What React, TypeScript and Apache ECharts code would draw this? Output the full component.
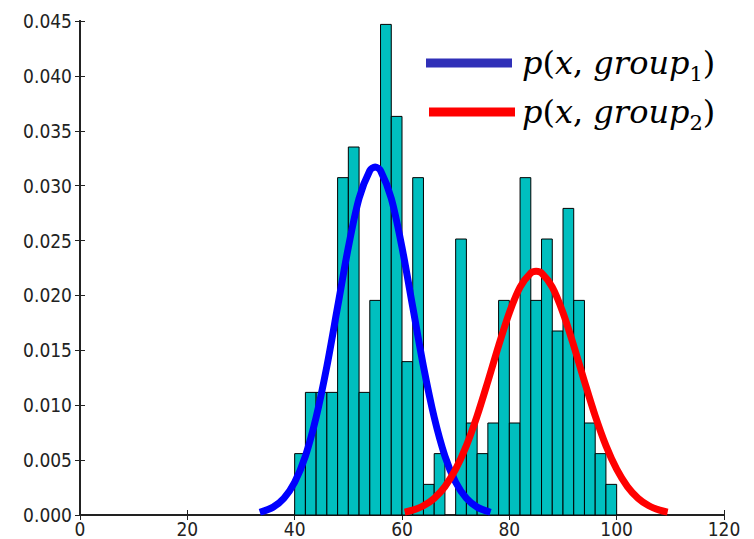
import React, { useEffect, useRef } from "react";
import * as echarts from "echarts";

// Histogram bin edges and normalized densities
const binEdges = [40, 42, 44, 46, 48, 50, 52, 54, 56, 58, 60, 62, 64, 66, 68, 70, 72, 74, 76, 78, 80, 82, 84, 86, 88, 90, 92, 94, 96, 98, 100];
const densities = [0.00559, 0.01117, 0.01117, 0.01117, 0.03073, 0.03352, 0.01117, 0.01955, 0.04469, 0.03631, 0.01397, 0.03073, 0.00279, 0.00559, 0, 0.02514, 0.00838, 0.00559, 0.00838, 0.01955, 0.00838, 0.03073, 0.01955, 0.02514, 0.01676, 0.02793, 0.01955, 0.00838, 0.00559, 0.00279];

// p(x, group1) curve
const blueX = [33.5, 36, 38, 40, 42, 44, 46, 48, 50, 52, 54, 55, 56, 58, 60, 62, 64, 66, 68, 70, 72, 74, 76.5];
const blueY = [0.00025, 0.00072, 0.00152, 0.00298, 0.00537, 0.0089, 0.01354, 0.01895, 0.02438, 0.02884, 0.03137, 0.0317, 0.03137, 0.02884, 0.02438, 0.01895, 0.01354, 0.0089, 0.00537, 0.00298, 0.00152, 0.00072, 0.00025];

// p(x, group2) curve
const redX = [60.5, 62, 64, 66, 68, 70, 72, 74, 76, 78, 80, 82, 84, 85, 86, 88, 90, 92, 94, 96, 98, 100, 102, 104, 106, 108, 109.5];
const redY = [0.00026, 0.00044, 0.00084, 0.00152, 0.00259, 0.00417, 0.00632, 0.00903, 0.01216, 0.01542, 0.01843, 0.02076, 0.02204, 0.0222, 0.02204, 0.02076, 0.01843, 0.01542, 0.01216, 0.00903, 0.00632, 0.00417, 0.00259, 0.00152, 0.00084, 0.00044, 0.00026];

const legendSubs = ["1", "2"];

const labelFont = "'DejaVu Sans Condensed', 'DejaVu Sans', sans-serif";

export default function App() {
  const ref = useRef<HTMLDivElement>(null);
  useEffect(() => {
    if (!ref.current) return;
    const chart = echarts.init(ref.current, null, { renderer: "svg" });
    const barData = densities.map((d, i) => [binEdges[i], binEdges[i + 1], d]);
    const axisLine = { show: true, lineStyle: { color: "#222", width: 2 } };
    const tick = { show: true, inside: true, length: 5, lineStyle: { color: "#222", width: 1 } };
    const richText = (sub: string) => ({
      type: "text",
      style: {
        text: `{i|p}{n|(}{i|x}{n|, }{i|group}{s|${sub}}{n|)}`,
        fill: "#000",
        verticalAlign: "middle",
        rich: {
          i: { fontFamily: "'DejaVu Serif', serif", fontStyle: "italic", fontSize: 32, lineHeight: 42 },
          n: { fontFamily: "'DejaVu Serif', serif", fontSize: 32, lineHeight: 42 },
          s: { fontFamily: "'DejaVu Serif', serif", fontSize: 21, lineHeight: 25, verticalAlign: "bottom" },
        },
      },
    });
    chart.setOption({
      animation: false,
      backgroundColor: "#fff",
      grid: { left: 80, right: 30, top: 21, bottom: 24, containLabel: false, outerBoundsMode: "none" },
      xAxis: [
        {
          type: "value", min: 0, max: 120, interval: 20, position: "bottom",
          axisLine, axisTick: tick, splitLine: { show: false },
          axisLabel: { fontSize: 19, lineHeight: 18, fontFamily: labelFont, color: "#222", margin: 5 },
        },
        {
          type: "value", min: 0, max: 120, interval: 20, position: "top",
          axisLine, axisTick: tick, splitLine: { show: false }, axisLabel: { show: false },
        },
      ],
      yAxis: [
        {
          type: "value", min: 0, max: 0.045, interval: 0.005, position: "left",
          axisLine, axisTick: tick, splitLine: { show: false },
          axisLabel: { fontSize: 19, fontFamily: labelFont, color: "#222", margin: 8, formatter: (v: number) => v.toFixed(3) },
        },
        {
          type: "value", min: 0, max: 0.045, interval: 0.005, position: "right",
          axisLine, axisTick: tick, splitLine: { show: false }, axisLabel: { show: false },
        },
      ],
      series: [
        {
          type: "custom",
          xAxisIndex: 0,
          yAxisIndex: 0,
          z: 2,
          encode: { x: [0, 1], y: 2 },
          data: barData,
          renderItem: (params: any, api: any) => {
            const x0 = api.value(0);
            const x1 = api.value(1);
            const v = api.value(2);
            if (!v) return null;
            const p0 = api.coord([x0, 0]);
            const p1 = api.coord([x1, v]);
            return {
              type: "rect",
              shape: { x: p0[0], y: p1[1], width: p1[0] - p0[0], height: p0[1] - p1[1] },
              style: { fill: "#00BFBF", stroke: "#000", lineWidth: 1 },
            };
          },
        },
        {
          type: "line",
          name: "p(x, group1)",
          z: 3,
          showSymbol: false,
          smooth: 0.3,
          data: blueX.map((x, i) => [x, blueY[i]]),
          lineStyle: { color: "#0000FF", width: 7 },
          itemStyle: { color: "#0000FF" },
        },
        {
          type: "line",
          name: "p(x, group2)",
          z: 4,
          showSymbol: false,
          smooth: 0.3,
          data: redX.map((x, i) => [x, redY[i]]),
          lineStyle: { color: "#FF0000", width: 7 },
          itemStyle: { color: "#FF0000" },
        },
      ],
      graphic: [
        { type: "line", shape: { x1: 426, y1: 63, x2: 512, y2: 63 }, style: { stroke: "#3030B8", lineWidth: 9 }, z: 10 },
        { type: "line", shape: { x1: 429, y1: 112, x2: 515, y2: 112 }, style: { stroke: "#FF0000", lineWidth: 9 }, z: 10 },
        { ...richText(legendSubs[0]), x: 522, y: 63, z: 10 },
        { ...richText(legendSubs[1]), x: 522, y: 112, z: 10 },
      ],
    });
    return () => chart.dispose();
  }, []);
  return <div ref={ref} style={{ position: "fixed", left: 0, top: 0, width: 754, height: 539 }} />;
}
